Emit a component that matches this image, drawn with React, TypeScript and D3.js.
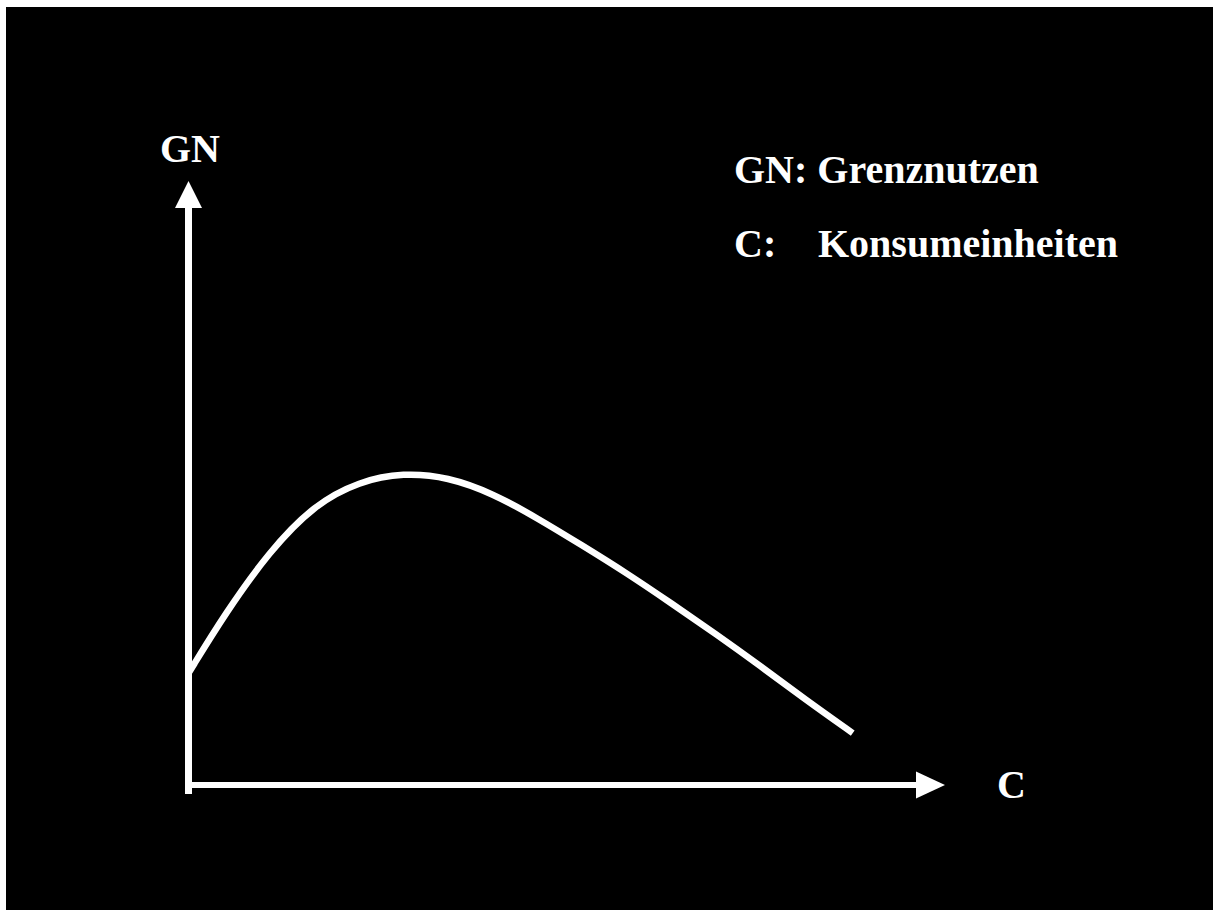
import React from "react";
import * as d3 from "d3";

const curveX = [0, 4.9, 10.7, 16.6, 22.6, 28.4, 34.3, 40.2, 46.1, 52.0, 57.9, 63.8, 69.7, 75.6, 81.5, 87.8];
const curveY = [18.5, 28.5, 38.7, 46.4, 50.3, 51.7, 51.0, 48.3, 44.2, 39.7, 35.1, 30.1, 25.0, 19.7, 14.2, 8.6];
const yAxisLabel = "GN";
const xAxisLabel = "C";
const legendKeys = ["GN:", "C:"];
const legendTexts = ["Grenznutzen", "Konsumeinheiten"];

const W = 1213;
const H = 910;

export default function App() {
  const x = d3.scaleLinear().domain([0, 100]).range([188.5, 945]);
  const y = d3.scaleLinear().domain([0, 100]).range([785, 181]);
  const pts: [number, number][] = curveX.map((v, i) => [v, curveY[i]]);
  const line = d3
    .line<[number, number]>()
    .x((d) => x(d[0]))
    .y((d) => y(d[1]))
    .curve(d3.curveBasis);

  const font = "'Liberation Serif', 'Times New Roman', serif";
  const x0 = x(0);
  const y0 = y(0);
  const xEnd = x(100);
  const yTop = y(100);

  return (
    <svg
      width={W}
      height={H}
      style={{ position: "absolute", left: 0, top: 0, display: "block" }}
    >
      <rect x={0} y={0} width={W} height={H} fill="#fff" />
      <rect x={6} y={7} width={W - 6} height={H - 7} fill="#000" />
      {/* y axis */}
      <rect x={x0 - 3.5} y={yTop + 27} width={7} height={794 - (yTop + 27)} fill="#fff" />
      <path
        d={`M${x0},${yTop} L${x0 + 13.5},${yTop + 27} L${x0 - 13.5},${yTop + 27} Z`}
        fill="#fff"
      />
      {/* x axis */}
      <rect x={x0 + 3.5} y={y0 - 3} width={xEnd - 29 - (x0 + 3.5)} height={6} fill="#fff" />
      <path
        d={`M${xEnd},${y0} L${xEnd - 29},${y0 - 13.5} L${xEnd - 29},${y0 + 13.5} Z`}
        fill="#fff"
      />
      {/* curve */}
      <path d={line(pts) || ""} fill="none" stroke="#fff" strokeWidth={6.5} />
      {/* labels */}
      <g fill="#fff" fontFamily={font} fontWeight="bold" fontSize={40}>
        <text x={160} y={162}>{yAxisLabel}</text>
        <text x={997} y={798}>{xAxisLabel}</text>
        <text x={734} y={183}>{`${legendKeys[0]} ${legendTexts[0]}`}</text>
        <text x={734} y={257}>{legendKeys[1]}</text>
        <text x={818} y={257}>{legendTexts[1]}</text>
      </g>
    </svg>
  );
}
